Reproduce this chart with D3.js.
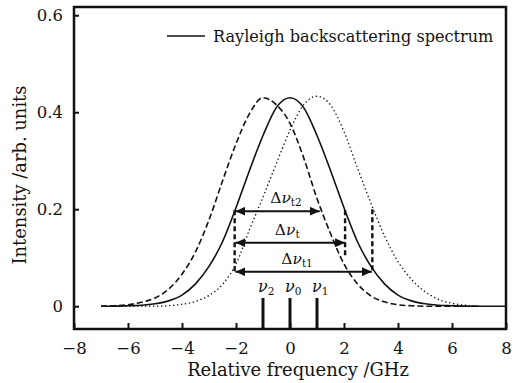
<!DOCTYPE html>
<html>
<head>
<meta charset="utf-8">
<script src="https://cdn.jsdelivr.net/npm/d3@7/dist/d3.min.js"></script>
<style>
  html, body { margin: 0; padding: 0; background: #fff; }
  svg { display: block; font-family: "DejaVu Serif", serif; }
</style>
</head>
<body>
<div id="chart"></div>
<script>
// relative frequency grid (GHz) and the three spectra
const freqs = [-7, -6.5, -6, -5.5, -5, -4.5, -4, -3.5, -3, -2.5, -2, -1.5, -1, -0.5, 0,
  0.5, 1, 1.5, 2, 2.5, 3, 3.5, 4, 4.5, 5, 5.5, 6, 6.5, 7, 7.5, 8];
const solidSpec = [0, 0, 0.001, 0.002, 0.005, 0.011, 0.023, 0.046, 0.082, 0.133, 0.203, 0.280, 0.352, 0.410, 0.430,
  0.410, 0.352, 0.280, 0.203, 0.133, 0.082, 0.046, 0.023, 0.011, 0.005, 0.002, 0.001, 0, 0, 0, 0];
const dashedSpec = [0, 0.001, 0.003, 0.008, 0.017, 0.035, 0.066, 0.112, 0.178, 0.258, 0.335, 0.397, 0.430, 0.415, 0.377,
  0.307, 0.222, 0.150, 0.087, 0.046, 0.021, 0.009, 0.003, 0.001, 0, 0, 0, 0, 0, null, null];
const dottedSpec = [0, 0, 0, 0, 0, 0.001, 0.004, 0.010, 0.022, 0.045, 0.087, 0.158, 0.225, 0.295, 0.363,
  0.415, 0.433, 0.415, 0.360, 0.285, 0.212, 0.145, 0.092, 0.055, 0.030, 0.014, 0.006, 0.002, 0, null, null];

const xTicks = [-8, -6, -4, -2, 0, 2, 4, 6, 8];
const yTicks = [0, 0.2, 0.4, 0.6];

// laser lines nu2, nu0, nu1
const lineFreqs = [-1, 0, 1];
const lineSubs = ['2', '0', '1'];
const lineTop = 0.017;

// width arrows
const arrowSubs = ['t2', 't', 't1'];
const arrowFrom = [-2.02, -2.02, -2.02];
const arrowTo = [1.1, 2.04, 3.03];
const arrowLevel = [0.196, 0.131, 0.071];
const arrowLabelAt = [-0.15, -0.1, 0.26];

// dashed guide lines
const guideX = [-2.05, 2.04, 3.05];
const guideTop = [0.198, 0.198, 0.2];
const guideBottom = [0.068, 0.105, 0.068];

const W = 514, H = 383;
const plot = { left: 74, right: 506, top: 7, bottom: 329 };
const ink = '#111';

const svg = d3.select('#chart').append('svg')
  .attr('width', W).attr('height', H);

const x = d3.scaleLinear().domain([-8, 8]).range([plot.left, plot.right]);
const y = d3.scaleLinear().domain([-0.047, 0.617]).range([plot.bottom, plot.top]);

const defs = svg.append('defs');
defs.append('marker')
  .attr('id', 'head')
  .attr('markerUnits', 'userSpaceOnUse')
  .attr('markerWidth', 11).attr('markerHeight', 9)
  .attr('refX', 10).attr('refY', 4.5)
  .attr('orient', 'auto-start-reverse')
  .append('path')
  .attr('d', 'M0,0 L10,4.5 L0,9 Z')
  .attr('fill', ink);

// axes, ticks pointing inwards
const fmt = d => d < 0 ? '\u2212' + Math.abs(d) : String(d);

const xAxis = svg.append('g')
  .attr('transform', `translate(0,${plot.bottom})`)
  .call(d3.axisBottom(x).tickValues(xTicks).tickSizeInner(-6).tickSizeOuter(0)
    .tickPadding(13).tickFormat(fmt));

const yAxis = svg.append('g')
  .attr('transform', `translate(${plot.left},0)`)
  .call(d3.axisLeft(y).tickValues(yTicks).tickSizeInner(-5).tickSizeOuter(0)
    .tickPadding(11).tickFormat(d => d === 0 ? '0' : d.toFixed(1)));

[xAxis, yAxis].forEach(g => {
  g.select('.domain').remove();
  g.selectAll('line').attr('stroke', ink).attr('stroke-width', 2);
  g.selectAll('text').attr('fill', ink).attr('font-size', 16.5)
    .attr('font-family', '"DejaVu Serif", serif');
});

// frame
svg.append('rect')
  .attr('x', plot.left).attr('y', plot.top)
  .attr('width', plot.right - plot.left).attr('height', plot.bottom - plot.top)
  .attr('fill', 'none').attr('stroke', ink).attr('stroke-width', 2.5);

// spectra
const pts = vals => freqs.map((f, i) => [f, vals[i]]);
const line = d3.line()
  .defined(d => d[1] !== null)
  .x(d => x(d[0])).y(d => y(d[1]))
  .curve(d3.curveMonotoneX);

svg.append('path').attr('d', line(pts(dashedSpec)))
  .attr('fill', 'none').attr('stroke', ink).attr('stroke-width', 1.6)
  .attr('stroke-dasharray', '6,3');
svg.append('path').attr('d', line(pts(dottedSpec)))
  .attr('fill', 'none').attr('stroke', ink).attr('stroke-width', 1.3)
  .attr('stroke-dasharray', '1.4,2.6');
svg.append('path').attr('d', line(pts(solidSpec)))
  .attr('fill', 'none').attr('stroke', ink).attr('stroke-width', 1.6);

// guides
guideX.forEach((g, i) => {
  svg.append('line')
    .attr('x1', x(g)).attr('x2', x(g))
    .attr('y1', y(guideTop[i])).attr('y2', y(guideBottom[i]))
    .attr('stroke', ink).attr('stroke-width', 2.4)
    .attr('stroke-dasharray', '5,3');
});

// double arrows with labels
arrowSubs.forEach((s, i) => {
  svg.append('line')
    .attr('x1', x(arrowFrom[i])).attr('x2', x(arrowTo[i]))
    .attr('y1', y(arrowLevel[i])).attr('y2', y(arrowLevel[i]))
    .attr('stroke', ink).attr('stroke-width', 2)
    .attr('marker-start', 'url(#head)').attr('marker-end', 'url(#head)');
  const t = svg.append('text')
    .attr('x', x(arrowLabelAt[i])).attr('y', y(arrowLevel[i]) - 8)
    .attr('text-anchor', 'middle').attr('font-size', 15.5).attr('fill', ink);
  t.append('tspan').text('\u0394');
  t.append('tspan').attr('font-style', 'italic').text('\u03bd');
  t.append('tspan').attr('font-size', 10.5).attr('dy', 3).text(s);
});

// laser lines
lineFreqs.forEach((f, i) => {
  svg.append('line')
    .attr('x1', x(f)).attr('x2', x(f))
    .attr('y1', y(lineTop)).attr('y2', plot.bottom - 1)
    .attr('stroke', ink).attr('stroke-width', 3);
  const t = svg.append('text')
    .attr('x', x(f) - 5).attr('y', y(lineTop) - 6)
    .attr('font-size', 16).attr('fill', ink);
  t.append('tspan').attr('font-style', 'italic').text('\u03bd');
  t.append('tspan').attr('font-size', 10.5).attr('dy', 3).text(lineSubs[i]);
});

// legend
svg.append('line')
  .attr('x1', 167).attr('x2', 205).attr('y1', 36).attr('y2', 36)
  .attr('stroke', ink).attr('stroke-width', 1.6);
svg.append('text')
  .attr('x', 213).attr('y', 42)
  .attr('font-size', 16.1).attr('fill', ink)
  .text('Rayleigh backscattering spectrum');

// axis titles
svg.append('text')
  .attr('x', 298).attr('y', 376)
  .attr('text-anchor', 'middle').attr('font-size', 17.9).attr('fill', ink)
  .text('Relative frequency /GHz');
svg.append('text')
  .attr('transform', 'translate(26,175) rotate(-90)')
  .attr('text-anchor', 'middle').attr('font-size', 17.9).attr('fill', ink)
  .text('Intensity /arb. units');
</script>
</body>
</html>
